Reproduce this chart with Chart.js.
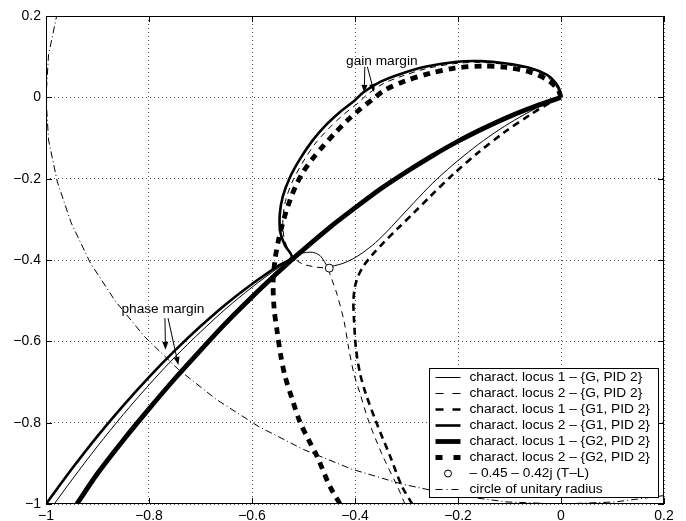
<!DOCTYPE html>
<html>
<head>
<meta charset="utf-8">
<script src="https://cdn.jsdelivr.net/npm/chart.js@4.4.0/dist/chart.umd.min.js"></script>
<style>
  html, body { margin: 0; padding: 0; background: #fff; }
  #wrap { width: 686px; height: 521px; }
</style>
</head>
<body>
<div id="wrap"><canvas id="nyquistChart"></canvas></div>
<script>
const FONT = '"Liberation Sans", Arial, Helvetica, sans-serif';

// tick values and labels (same on both axes)
const xTicks = [-1, -0.8, -0.6, -0.4, -0.2, 0, 0.2];
const yTicks = [-1, -0.8, -0.6, -0.4, -0.2, 0, 0.2];
const xTickLabels = ['−1', '−0.8', '−0.6', '−0.4', '−0.2', '0', '0.2'];
const yTickLabels = ['−1', '−0.8', '−0.6', '−0.4', '−0.2', '0', '0.2'];

// characteristic loci, [re, im]
const locus1G = [
  [-0.984, -1.000], [-0.950, -0.941], [-0.900, -0.858], [-0.850, -0.780], [-0.800, -0.707],
  [-0.750, -0.639], [-0.700, -0.577], [-0.650, -0.519], [-0.600, -0.467], [-0.550, -0.420],
  [-0.520, -0.394], [-0.505, -0.384], [-0.483, -0.381], [-0.468, -0.389], [-0.460, -0.403],
  [-0.452, -0.417], [-0.440, -0.414], [-0.425, -0.409], [-0.405, -0.398], [-0.385, -0.382],
  [-0.360, -0.357], [-0.335, -0.326], [-0.310, -0.292], [-0.285, -0.258], [-0.250, -0.212],
  [-0.210, -0.166], [-0.170, -0.125], [-0.130, -0.088], [-0.090, -0.056], [-0.050, -0.028],
  [-0.020, -0.010], [0, 0]
];
const locus2G = [
  [-0.303, -1.000], [-0.318, -0.956], [-0.346, -0.882], [-0.373, -0.798], [-0.390, -0.729],
  [-0.402, -0.680], [-0.412, -0.619], [-0.421, -0.552], [-0.435, -0.484], [-0.447, -0.441],
  [-0.454, -0.422], [-0.478, -0.417], [-0.501, -0.410], [-0.517, -0.397], [-0.530, -0.373],
  [-0.538, -0.343], [-0.540, -0.299], [-0.534, -0.250], [-0.520, -0.203], [-0.501, -0.159],
  [-0.478, -0.115], [-0.452, -0.078], [-0.423, -0.043], [-0.394, -0.014], [-0.377, 0.006],
  [-0.346, 0.033], [-0.307, 0.053], [-0.260, 0.071], [-0.206, 0.083], [-0.157, 0.086],
  [-0.109, 0.081], [-0.060, 0.069], [-0.029, 0.052], [-0.012, 0.032], [-0.004, 0.014], [0, 0]
];
const locus1G1 = [
  [-0.289, -1.000], [-0.309, -0.956], [-0.332, -0.882], [-0.359, -0.798], [-0.379, -0.729],
  [-0.390, -0.680], [-0.398, -0.619], [-0.402, -0.545], [-0.403, -0.500], [-0.400, -0.465],
  [-0.393, -0.437], [-0.382, -0.412], [-0.367, -0.388], [-0.345, -0.358], [-0.315, -0.320],
  [-0.285, -0.283], [-0.255, -0.245], [-0.210, -0.190], [-0.160, -0.135], [-0.110, -0.086],
  [-0.060, -0.043], [-0.025, -0.016], [0, 0]
];
const locus2G1 = [
  [-1.000, -1.000], [-0.950, -0.914], [-0.900, -0.833], [-0.850, -0.758], [-0.800, -0.688],
  [-0.750, -0.623], [-0.700, -0.563], [-0.650, -0.508], [-0.600, -0.459], [-0.550, -0.415],
  [-0.523, -0.393], [-0.536, -0.364], [-0.545, -0.331], [-0.546, -0.287], [-0.540, -0.243],
  [-0.526, -0.196], [-0.507, -0.152], [-0.483, -0.107], [-0.458, -0.070], [-0.429, -0.036],
  [-0.400, -0.007], [-0.383, 0.013], [-0.351, 0.038], [-0.313, 0.057], [-0.264, 0.075],
  [-0.206, 0.087], [-0.157, 0.089], [-0.109, 0.084], [-0.060, 0.072], [-0.027, 0.055],
  [-0.010, 0.035], [-0.002, 0.016], [0, 0]
];
const locus1G2 = [
  [-0.940, -1.000], [-0.900, -0.925], [-0.850, -0.843], [-0.800, -0.766], [-0.750, -0.692],
  [-0.700, -0.622], [-0.650, -0.554], [-0.600, -0.491], [-0.550, -0.431], [-0.517, -0.393],
  [-0.450, -0.321], [-0.400, -0.272], [-0.350, -0.225], [-0.300, -0.183], [-0.250, -0.144],
  [-0.200, -0.108], [-0.150, -0.076], [-0.100, -0.047], [-0.050, -0.022], [0, 0]
];
const locus2G2 = [
  [0, 0], [-0.006, 0.019], [-0.025, 0.042], [-0.060, 0.062], [-0.109, 0.074], [-0.151, 0.077],
  [-0.206, 0.072], [-0.254, 0.059], [-0.303, 0.040], [-0.342, 0.018], [-0.365, -0.004],
  [-0.390, -0.029], [-0.416, -0.058], [-0.439, -0.088], [-0.462, -0.120], [-0.483, -0.152],
  [-0.501, -0.184], [-0.515, -0.218], [-0.526, -0.252], [-0.538, -0.299], [-0.548, -0.348],
  [-0.555, -0.397], [-0.559, -0.454], [-0.557, -0.520], [-0.551, -0.577], [-0.544, -0.636],
  [-0.536, -0.685], [-0.522, -0.742], [-0.507, -0.798], [-0.491, -0.840], [-0.474, -0.882],
  [-0.449, -0.956], [-0.429, -1.000]
];
const pointTL = [[-0.45, -0.42]];
const unitCircle = [
  [-0.978, 0.208], [-0.995, 0.105], [-1.000, 0.000], [-0.995, -0.105], [-0.978, -0.208],
  [-0.951, -0.309], [-0.914, -0.407], [-0.866, -0.500], [-0.809, -0.588], [-0.743, -0.669],
  [-0.669, -0.743], [-0.588, -0.809], [-0.500, -0.866], [-0.407, -0.914], [-0.309, -0.951],
  [-0.208, -0.978], [-0.105, -0.995], [0.000, -1.000], [0.105, -0.995], [0.208, -0.978]
];

const seriesLabels = [
  'charact. locus 1 – {G, PID 2}',
  'charact. locus 2 – {G, PID 2}',
  'charact. locus 1 – {G1, PID 2}',
  'charact. locus 2 – {G1, PID 2}',
  'charact. locus 1 – {G2, PID 2}',
  'charact. locus 2 – {G2, PID 2}',
  '– 0.45 – 0.42j (T–L)',
  'circle of unitary radius'
];

function toXY(list) {
  return list.map(p => ({ x: p[0], y: p[1] }));
}

function lineSet(label, list, width, dash, legendDash) {
  return {
    label: label,
    data: toXY(list),
    showLine: true,
    borderColor: '#000',
    borderWidth: width,
    borderDash: dash,
    borderCapStyle: 'butt',
    borderJoinStyle: 'round',
    tension: 0.3,
    pointRadius: 0,
    legendDash: legendDash
  };
}

const datasets = [
  lineSet(seriesLabels[0], locus1G, 1, [], []),
  lineSet(seriesLabels[1], locus2G, 1, [6, 5], [8, 9]),
  lineSet(seriesLabels[2], locus1G1, 2.6, [7, 5], [8, 9]),
  lineSet(seriesLabels[3], locus2G1, 2.6, [], []),
  lineSet(seriesLabels[4], locus1G2, 4.8, [], []),
  lineSet(seriesLabels[5], locus2G2, 4.8, [7, 6], [7, 11]),
  {
    label: seriesLabels[6],
    data: toXY(pointTL),
    showLine: false,
    pointRadius: 4,
    pointBackgroundColor: '#fff',
    pointBorderColor: '#000',
    pointBorderWidth: 1,
    order: -10,
    isMarker: true
  },
  Object.assign(lineSet(seriesLabels[7], unitCircle, 1, [7, 3, 1, 3], [7, 4, 1, 4]), { tension: 0 })
];

// frame with inward ticks, like the original figure
const frameAndTicks = {
  id: 'frameAndTicks',
  afterDatasetsDraw(chart) {
    const { ctx, chartArea: a, scales: { x, y } } = chart;
    ctx.save();
    ctx.strokeStyle = '#000';
    ctx.lineWidth = 1;
    ctx.setLineDash([]);
    ctx.strokeRect(a.left + 0.5, a.top + 0.5, a.right - a.left - 1, a.bottom - a.top - 1);
    ctx.beginPath();
    xTicks.forEach(v => {
      const px = Math.round(x.getPixelForValue(v)) + 0.5;
      ctx.moveTo(px, a.bottom); ctx.lineTo(px, a.bottom - 6);
      ctx.moveTo(px, a.top); ctx.lineTo(px, a.top + 6);
    });
    yTicks.forEach(v => {
      const py = Math.round(y.getPixelForValue(v)) + 0.5;
      ctx.moveTo(a.left, py); ctx.lineTo(a.left + 6, py);
      ctx.moveTo(a.right, py); ctx.lineTo(a.right - 6, py);
    });
    ctx.stroke();
    ctx.restore();
  }
};

// margin labels with arrows
const marginNotes = [
  { text: 'gain margin', at: [-0.348, 0.089], arrows: [[-0.381, 0.075, -0.382, 0.011], [-0.376, 0.075, -0.363, 0.013]] },
  { text: 'phase margin', at: [-0.773, -0.520], arrows: [[-0.769, -0.543, -0.768, -0.621], [-0.763, -0.543, -0.743, -0.658]] }
];

function drawArrow(ctx, x0, y0, x1, y1) {
  const ang = Math.atan2(y1 - y0, x1 - x0);
  const len = 8, half = 3;
  const bx = x1 - len * Math.cos(ang), by = y1 - len * Math.sin(ang);
  ctx.beginPath();
  ctx.moveTo(x0, y0);
  ctx.lineTo(bx, by);
  ctx.stroke();
  ctx.beginPath();
  ctx.moveTo(x1, y1);
  ctx.lineTo(bx + half * Math.sin(ang), by - half * Math.cos(ang));
  ctx.lineTo(bx - half * Math.sin(ang), by + half * Math.cos(ang));
  ctx.closePath();
  ctx.fill();
}

const annotations = {
  id: 'annotations',
  afterDraw(chart) {
    const { ctx, scales: { x, y } } = chart;
    ctx.save();
    ctx.fillStyle = '#000';
    ctx.strokeStyle = '#000';
    ctx.lineWidth = 1;
    ctx.font = '13.7px ' + FONT;
    ctx.textAlign = 'center';
    ctx.textBaseline = 'middle';
    marginNotes.forEach(n => {
      ctx.fillText(n.text, x.getPixelForValue(n.at[0]), y.getPixelForValue(n.at[1]));
      n.arrows.forEach(a => {
        drawArrow(ctx, x.getPixelForValue(a[0]), y.getPixelForValue(a[1]),
          x.getPixelForValue(a[2]), y.getPixelForValue(a[3]));
      });
    });
    ctx.restore();
  }
};

// boxed legend in the lower right corner
const legendBox = {
  id: 'legendBox',
  afterDraw(chart) {
    const { ctx, chartArea: a } = chart;
    const w = 229, h = 129;
    const left = Math.round(a.right - 6 - w) + 0.5;
    const top = Math.round(a.bottom - 7 - h) + 0.5;
    ctx.save();
    ctx.fillStyle = '#fff';
    ctx.fillRect(left, top, w, h);
    ctx.strokeStyle = '#000';
    ctx.lineWidth = 1;
    ctx.strokeRect(left, top, w, h);
    ctx.font = '13.7px ' + FONT;
    ctx.textBaseline = 'middle';
    ctx.textAlign = 'left';
    chart.data.datasets.forEach((ds, i) => {
      const yc = top + 9 + i * 16;
      const x0 = left + 6, x1 = left + 31;
      if (ds.isMarker) {
        ctx.beginPath();
        ctx.arc((x0 + x1) / 2, yc, 3.5, 0, Math.PI * 2);
        ctx.fillStyle = '#fff';
        ctx.fill();
        ctx.lineWidth = 1;
        ctx.setLineDash([]);
        ctx.stroke();
      } else {
        ctx.beginPath();
        ctx.lineWidth = ds.borderWidth;
        ctx.lineCap = 'butt';
        ctx.setLineDash(ds.legendDash);
        ctx.moveTo(x0, yc);
        ctx.lineTo(x1, yc);
        ctx.stroke();
      }
      ctx.setLineDash([]);
      ctx.fillStyle = '#000';
      ctx.fillText(ds.label, left + 40, yc);
    });
    ctx.restore();
  }
};

new Chart(document.getElementById('nyquistChart'), {
  type: 'scatter',
  data: { datasets: datasets },
  options: {
    responsive: true,
    maintainAspectRatio: false,
    animation: false,
    events: [],
    layout: { padding: { top: 16, right: 22, left: 0, bottom: 0 } },
    plugins: {
      legend: { display: false },
      tooltip: { enabled: false }
    },
    scales: {
      x: {
        type: 'linear',
        min: -1,
        max: 0.2,
        afterFit: (scale) => { scale.height = 17; },
        afterBuildTicks: (scale) => { scale.ticks = xTicks.map(v => ({ value: v })); },
        ticks: {
          callback: (value, index) => xTickLabels[index],
          font: { family: FONT, size: 14 },
          color: '#000',
          padding: 4,
          maxRotation: 0,
          autoSkip: false
        },
        grid: { color: '#555', lineWidth: 1, drawTicks: false },
        border: { display: false, dash: [1, 3] }
      },
      y: {
        type: 'linear',
        min: -1,
        max: 0.2,
        afterFit: (scale) => { scale.width = 46; },
        afterBuildTicks: (scale) => { scale.ticks = yTicks.map(v => ({ value: v })); },
        ticks: {
          callback: (value, index) => yTickLabels[index],
          font: { family: FONT, size: 14 },
          color: '#000',
          padding: 5,
          autoSkip: false
        },
        grid: { color: '#555', lineWidth: 1, drawTicks: false },
        border: { display: false, dash: [1, 3] }
      }
    }
  },
  plugins: [frameAndTicks, annotations, legendBox]
});
</script>
</body>
</html>
